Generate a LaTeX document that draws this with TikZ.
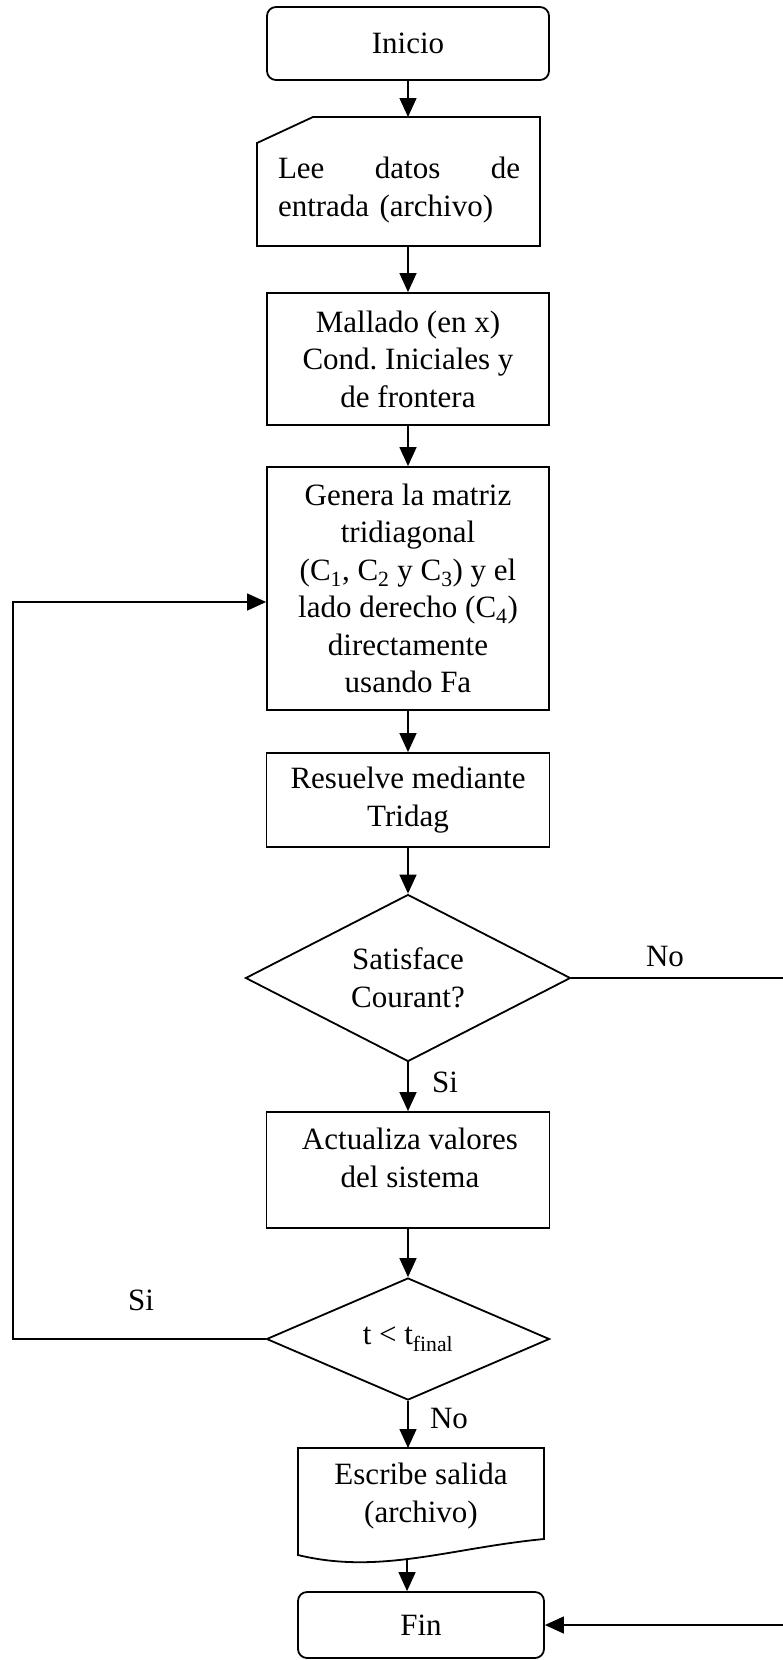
\documentclass[tikz,border=0pt]{standalone}
\usepackage{fontspec}
\setmainfont{Liberation Serif}
\usetikzlibrary{shapes.geometric,arrows.meta}

\begin{document}
\frenchspacing
\begin{tikzpicture}[x=1pt,y=-1pt,
  font=\fontsize{31}{37.5}\selectfont,
  outline/.style={draw=black, line width=1.8pt},
  proc/.style={outline, rectangle, minimum width=282pt, inner sep=0pt, align=center},
  term/.style={outline, rectangle, rounded corners=9pt, inner sep=0pt, align=center},
  decision/.style={outline, diamond, aspect=2, inner sep=1pt, align=center},
  blank/.style={rectangle, inner sep=0pt, outer sep=0pt, align=center},
  txt/.style={inner sep=0pt, align=center},
  flow/.style={draw=black, line width=1.4pt},
  arr/.style={flow, -{Triangle[length=19pt,width=17pt]}},
  lbl/.style={inner sep=0pt}
]
\useasboundingbox (0,0) rectangle (782,1660);
\fill[white] (0,0) rectangle (782,1660);

% terminals and process boxes
\node[term, minimum width=282pt, minimum height=73pt] (inicio) at (408,43.5) {Inicio};

\node[blank, minimum width=283pt, minimum height=129pt] (lee) at (398.5,181.5) {};
\draw[outline] (lee.south west) -- (lee.south east) -- (lee.north east)
  -- ([xshift=56pt]lee.north west) -- ([yshift=-26pt]lee.north west) -- cycle;
\node[txt, text width=242pt, align=left] (leeT) at (399,190) {Lee\hfill datos\hfill de\\entrada (archivo)};

\node[proc, minimum height=132pt] (mall) at (408,359) {Mallado (en x)\\Cond. Iniciales y\\de frontera};

\node[proc, minimum height=243pt] (gen) at (408,588.5) {Genera la matriz\\tridiagonal\\(C\textsubscript{1}, C\textsubscript{2} y C\textsubscript{3}) y el\\lado derecho (C\textsubscript{4})\\directamente\\usando Fa};

\node[proc, minimum width=283pt, minimum height=94pt] (res) at (408,800) {Resuelve mediante\\Tridag};

\node[decision, minimum width=325pt, minimum height=167pt] (d1) at (408,978) {Satisface\\Courant?};

\node[proc, minimum width=283pt, minimum height=116pt] (act) at (408,1170) {};
\node[txt] (actT) at (410,1158) {Actualiza valores\\del sistema};

\node[decision, minimum width=283pt, minimum height=122pt] (d2) at (408,1339) {t < t\textsubscript{final}};

% output document with wavy bottom
\node[blank, minimum width=246pt, minimum height=96pt] (esc) at (421,1496) {Escribe salida\\(archivo)};
\draw[outline] ([yshift=5pt]esc.south east)
  .. controls ([shift={(-94pt,-4pt)}]esc.south east) and ([shift={(82pt,-31pt)}]esc.south west)
  .. ([yshift=-11pt]esc.south west) coordinate[pos=0.54] (escB)
  -- (esc.north west) -- (esc.north east) -- cycle;

\node[term, minimum width=246pt, minimum height=66pt] (fin) at (421,1625) {Fin};

% rails for the side connectors
\coordinate (loopin) at (13,602);
\coordinate (rail) at (800,1000);

% connectors
\draw[arr] (inicio.south) -- (inicio.south |- lee.north);
\draw[arr] (lee.south -| mall.north) -- (mall.north);
\draw[arr] (mall) -- (gen);
\draw[arr] (gen) -- (res);
\draw[arr] (res.south) -- (d1.north);
\draw[arr] (d1.south) -- (act.north);
\draw[arr] (act.south) -- (d2.north);
\draw[arr] (d2.south) -- (d2.south |- esc.north);
\draw[arr] (escB) -- (escB |- fin.north);
\draw[arr] (d2.west) -| (loopin) -- (loopin -| gen.west);
\draw[arr] (d1.east) -- (d1.east -| rail) |- (fin.east);

% branch labels
\node[lbl] (no1) at (665,956) {No};
\node[lbl] (si1) at (445,1082) {Si};
\node[lbl] (si2) at (141,1300) {Si};
\node[lbl] (no2) at (449,1418) {No};
\end{tikzpicture}
\end{document}
